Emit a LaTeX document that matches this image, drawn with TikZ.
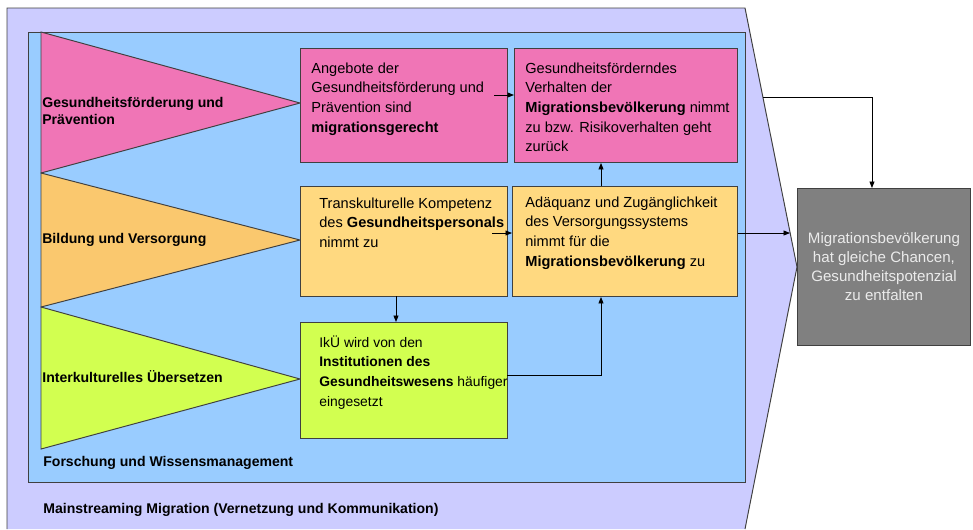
\documentclass[tikz,border=0pt]{standalone}
\usepackage{fontspec}
\setmainfont{Liberation Sans}
\usepackage{tikz}
\usetikzlibrary{arrows.meta}
\definecolor{lavendel}{HTML}{CCCCFF}
\definecolor{hellblau}{HTML}{99CCFF}
\definecolor{rosa}{HTML}{F075B6}
\definecolor{orangeD}{HTML}{FAC86E}
\definecolor{orangeH}{HTML}{FFD980}
\definecolor{gruen}{HTML}{D2FF50}
\definecolor{grau}{HTML}{808080}

\begin{document}
\begin{tikzpicture}[x=0.02cm,y=-0.02cm,
    rahmen/.style={draw=black!75,line width=0.55pt},
    feld/.style={rahmen,anchor=north west,inner sep=0pt},
    txt/.style={anchor=north west,inner sep=0pt,align=left,font=\fontsize{8.3}{11.2}\selectfont},
    lbl/.style={anchor=west,inner sep=0pt,align=left,font=\fontsize{8}{10.2}\selectfont\bfseries},
    arr/.style={-{Triangle[length=0.13cm,width=0.1cm]},line width=0.5pt}]
            \useasboundingbox (0,0) rectangle (973,529);
            % Mainstreaming (Pfeilform)
            \fill[lavendel] (7,8) -- (745,8) -- (797,267) -- (745,529) -- (7,529) -- cycle;
            \draw[rahmen] (7,529) -- (7,8) -- (745,8) -- (797,267) -- (745,529);
            % Forschung
            \filldraw[rahmen,fill=hellblau] (28,32) rectangle (745,482);
            % Handlungsfelder
            \filldraw[rahmen,fill=rosa] (41,32) -- (300,103) -- (41,173) -- cycle;
            \filldraw[rahmen,fill=orangeD] (41,173) -- (300,240) -- (41,307) -- cycle;
            \filldraw[rahmen,fill=gruen] (41,307) -- (300,379) -- (41,449) -- cycle;
            % Wirkungen
            \node[feld,fill=rosa,minimum width=4.14cm,minimum height=2.28cm] (p1) at (300,48) {};
            \node[feld,fill=rosa,minimum width=4.46cm,minimum height=2.28cm] (p2) at (514,48) {};
            \node[feld,fill=orangeH,minimum width=4.14cm,minimum height=2.2cm] (o1) at (300,186) {};
            \node[feld,fill=orangeH,minimum width=4.5cm,minimum height=2.2cm] (o2) at (512,186) {};
            \node[feld,fill=gruen,minimum width=4.14cm,minimum height=2.32cm] (g1) at (300,322) {};
            \node[feld,fill=grau,minimum width=3.46cm,minimum height=3.14cm,
                align=center,text=black!8,font=\fontsize{8.6}{10.8}\selectfont] (ziel) at (797,188)
                {Migrationsbevölkerung\\hat gleiche Chancen,\\Gesundheitspotenzial\\zu entfalten};
            % Pfeile
            \coordinate (a1) at (494,95);
            \coordinate (a2) at (492,233);
            \coordinate (a3) at (601,186);
            \coordinate (a4) at (396,296);
            \coordinate (a5) at (507,375);
            \coordinate (spitzeA) at (763,97);
            \coordinate (spitzeB) at (790,233);
            \draw[arr] (a1) -- (a1 -| p2.west);
            \draw[arr] (a2) -- (a2 -| o2.west);
            \draw[arr] (a3) -- (a3 |- p2.south);
            \draw[arr] (a4) -- (a4 |- g1.north);
            \draw[arr] (a5) -| (a3 |- o2.south);
            \draw[arr] (a2 -| o2.east) -- (spitzeB);
            \draw[arr] (spitzeA) -| ([xshift=-0.24cm]ziel.north);
            % Texte
            \node[txt] (p1t) at (311,59) {\strut Angebote der\\Gesundheitsförderung und\\Prävention sind\\\textbf{migrationsgerecht}};
            \node[txt] (p2t) at (525,59) {\strut Gesundheitsförderndes\\Verhalten der\\\textbf{Migrationsbevölkerung} nimmt\\zu bzw. Risikoverhalten geht\\zurück};
            \node[txt] (o1t) at (319,194) {\strut Transkulturelle Kompetenz\\des \textbf{Gesundheitspersonals}\\nimmt zu};
            \node[txt] (o2t) at (525,193) {\strut Adäquanz und Zugänglichkeit\\des Versorgungssystems\\nimmt für die\\\textbf{Migrationsbevölkerung} zu};
            \node[txt,font=\fontsize{7.9}{11.2}\selectfont] (g1t) at (319,333) {\strut IkÜ wird von den\\\textbf{Institutionen des}\\\textbf{Gesundheitswesens} häufiger\\eingesetzt};
            \node[lbl] (l1) at (42,111) {Gesundheitsförderung und\\Prävention};
            \node[lbl] (l2) at (42,240) {Bildung und Versorgung};
            \node[lbl] (l3) at (42,377) {Interkulturelles Übersetzen};
            \node[lbl] (l4) at (43,463) {Forschung und Wissensmanagement};
            \node[lbl] (l5) at (43,510) {Mainstreaming Migration (Vernetzung und Kommunikation)};
\end{tikzpicture}
\end{document}
